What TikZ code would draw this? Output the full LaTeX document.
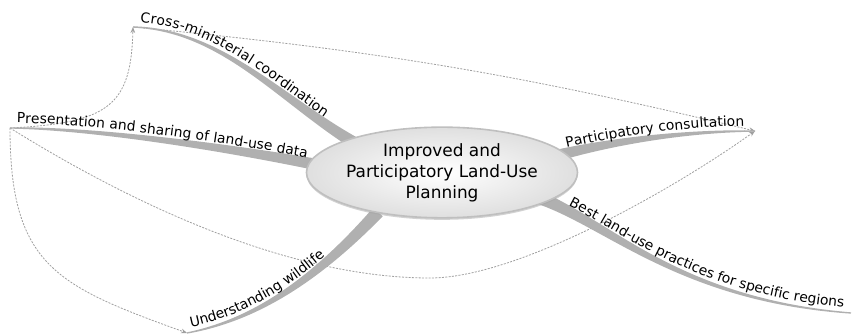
\documentclass[tikz,border=0pt]{standalone}
\usepackage{fontspec}
\setmainfont{DejaVu Sans}
\usetikzlibrary{calc,decorations.text,arrows.meta,shadows,shapes.geometric}

\newcommand{\ramafont}{\fontsize{10.4}{12}\selectfont}

% rama con grosor decreciente: inicio, control 1, control 2, final
\newcommand{\rama}[4]{%
  \fill[rama] ($#1!4.8pt!90:#2$)
    .. controls ($#2!3pt!90:#3$) and ($#3!1.3pt!90:#4$) .. ($#4!0.5pt!-90:#3$)
    -- ($#4!0.5pt!90:#3$)
    .. controls ($#3!1.3pt!-90:#4$) and ($#2!3pt!-90:#3$) .. ($#1!4.8pt!-90:#2$)
    -- cycle;}

\tikzset{
  rama/.style={fill=gray!62},
  conexion/.style={draw=gray!75, line width=0.6pt, dash pattern=on 1.5pt off 1pt,
    -{Stealth[length=4.5pt,width=3.5pt]}},
  centro/.style={ellipse, draw=gray!50, line width=1.2pt, inner color=white,
    outer color=gray!25, minimum width=156pt, minimum height=68pt, inner sep=0pt,
    align=center, font=\fontsize{12.7}{15.8}\selectfont,
    drop shadow={shadow xshift=0pt, shadow yshift=-1.5pt, fill=gray!70}},
  etiqueta/.style={decorate, decoration={text along path, raise=3.8pt}}
}

\begin{document}
\begin{tikzpicture}[x=0.75pt,y=0.75pt]
	\useasboundingbox (0,0) rectangle (853,335);
	
	% extremos de las ramas
	\coordinate (cruz) at (133,308);
	\coordinate (datos) at (10,207);
	\coordinate (fauna) at (187,2);
	\coordinate (consulta) at (755,204);
	\coordinate (practicas) at (851,22);
	
	% conexiones
	\draw[conexion] (datos) .. controls (110,212) and (131,230) .. (cruz);
	\draw[conexion] (cruz) to[bend left=4] (consulta);
	\draw[conexion] (datos) .. controls (150,120) and (300,57) .. (430,57)
		.. controls (520,57) and (680,150) .. (consulta);
	\draw[conexion] (datos) .. controls (10,69) and (57,49) .. (fauna);
	
	% ramas
	\rama{(365,186)}{(285,230)}{(225,305)}{(cruz)}
	\rama{(350,164)}{(230,188)}{(90,207)}{(datos)}
	\rama{(378,123)}{(315,55)}{(255,15)}{(fauna)}
	\rama{(540,175)}{(600,192)}{(680,204)}{(consulta)}
	\rama{(540,137)}{(610,110)}{(680,35)}{(practicas)}
	
	% centro
	\node[centro] (hub) at (442,162.5) {Improved and\\Participatory Land-Use\\Planning};
	
	% textos de las ramas
	\path[etiqueta, decoration={text={|\ramafont|Cross-ministerial coordination},
		text align={align=left,left indent=5pt}}]
		(cruz) .. controls (225,305) and (285,230) .. (365,186);
	\path[etiqueta, decoration={text={|\ramafont|Presentation and sharing of land-use data},
		text align={align=left,left indent=5pt}}]
		(datos) .. controls (90,207) and (230,188) .. (350,164);
	\path[etiqueta, decoration={text={|\ramafont|Understanding wildlife},
		text align={align=left,left indent=4pt}}]
		(fauna) .. controls (255,15) and (315,55) .. (378,123);
	\path[etiqueta, decoration={text={|\ramafont|Participatory consultation},
		text align={align=right,right indent=8pt}}]
		(540,175) .. controls (600,192) and (680,204) .. (consulta);
	\path[etiqueta, decoration={text={|\ramafont|Best land-use practices for specific regions},
		text align={align=right,right indent=6pt}}]
		(540,137) .. controls (610,110) and (680,35) .. (practicas);
\end{tikzpicture}
\end{document}
